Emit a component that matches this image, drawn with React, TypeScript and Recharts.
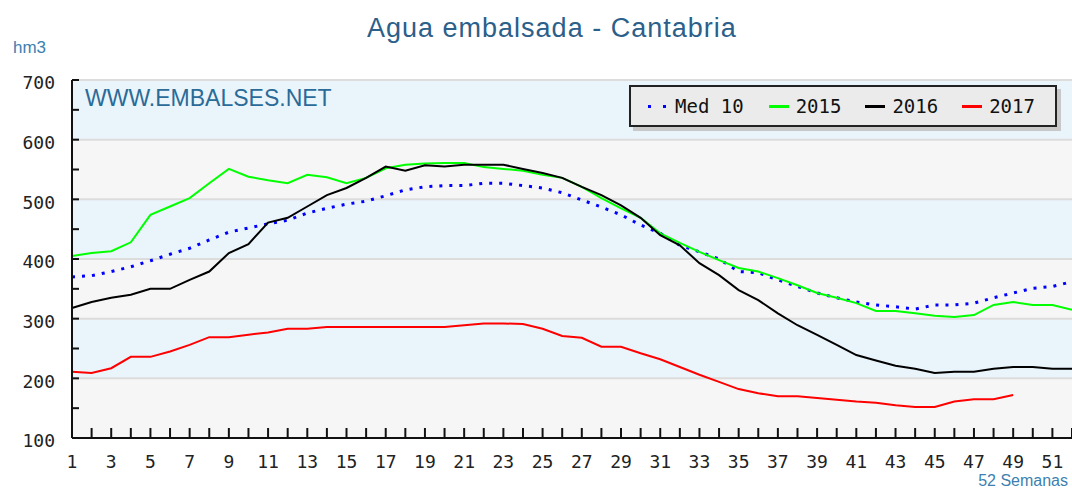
import React from 'react';
import { LineChart, Line, XAxis, YAxis, CartesianGrid, ReferenceLine, Legend } from 'recharts';

// semanas 1..52
const weeks = [1, 2, 3, 4, 5, 6, 7, 8, 9, 10, 11, 12, 13, 14, 15, 16, 17, 18, 19, 20, 21, 22, 23, 24, 25, 26,
    27, 28, 29, 30, 31, 32, 33, 34, 35, 36, 37, 38, 39, 40, 41, 42, 43, 44, 45, 46, 47, 48, 49, 50, 51, 52];

// hm3 por semana
const med10 = [370, 372, 379, 387, 397, 408, 418, 432, 445, 452, 459, 465, 477, 485, 492, 497, 506, 516, 521, 523,
    523, 527, 527, 523, 519, 511, 499, 487, 474, 457, 443, 423, 412, 400, 379, 377, 365, 354, 343, 335,
    328, 323, 320, 316, 323, 323, 326, 335, 343, 351, 354, 362];
const y2015 = [405, 410, 413, 428, 474, 488, 502, 527, 551, 538, 532, 527, 541, 537, 527, 536, 552, 558, 560, 561,
    561, 554, 551, 548, 541, 536, 521, 502, 485, 469, 443, 427, 412, 398, 385, 379, 368, 356, 343, 335,
    326, 313, 313, 309, 305, 303, 306, 323, 328, 323, 323, 315];
const y2016 = [318, 328, 335, 340, 350, 350, 365, 379, 410, 425, 461, 469, 488, 507, 519, 536, 555, 548, 557, 555,
    558, 558, 558, 551, 544, 536, 521, 507, 490, 469, 440, 423, 393, 373, 348, 331, 309, 289, 273, 256,
    239, 230, 221, 216, 209, 211, 211, 216, 219, 219, 216, 216];
const y2017 = [211, 209, 217, 236, 236, 245, 256, 269, 269, 273, 277, 283, 283, 286, 286, 286, 286, 286, 286, 286,
    289, 292, 292, 291, 283, 271, 268, 253, 253, 242, 232, 219, 206, 194, 182, 175, 170, 170, 167, 164,
    161, 159, 155, 152, 152, 161, 165, 165, 172];

const yTicks = [100, 150, 200, 250, 300, 350, 400, 450, 500, 550, 600, 650, 700];
const gridValues = [200, 300, 400, 500, 600, 700];

const series = [
    { key: 'med', name: 'Med 10', color: '#0000ff', dotted: true },
    { key: 'y2015', name: '2015', color: '#00ff00', dotted: false },
    { key: 'y2016', name: '2016', color: '#000000', dotted: false },
    { key: 'y2017', name: '2017', color: '#ff0000', dotted: false },
];

const data = weeks.map((w, i) => ({
    week: w,
    med: med10[i],
    y2015: y2015[i],
    y2016: y2016[i],
    y2017: i < y2017.length ? y2017[i] : null,
}));

const monoFont = '"DejaVu Sans Mono", monospace';
const sansFont = '"Liberation Sans", Arial, sans-serif';

const YTick = (props: any) => {
    const { x, y, payload } = props;
    const v = payload.value;
    return (
        <g>
            <line x1={x} x2={x + 7} y1={y} y2={y} stroke="#111" strokeWidth={2} />
            {v % 100 === 0 && (
                <text x={x - 17} y={y + 3} dy="0.35em" textAnchor="end" fontFamily={monoFont} fontSize={18} fill="#222">
                    {v}
                </text>
            )}
        </g>
    );
};

const XTick = (props: any) => {
    const { x, y, payload } = props;
    const w = payload.value;
    return (
        <g>
            <line x1={x} x2={x} y1={y} y2={y - 10} stroke="#111" strokeWidth={2} />
            {w % 2 === 1 && (
                <text x={x} y={y + 24} dy="0.35em" textAnchor="middle" fontFamily={monoFont} fontSize={18} fill="#222">
                    {w}
                </text>
            )}
        </g>
    );
};

const LegendBox = () => (
    <div
        style={{
            boxSizing: 'border-box',
            width: 428,
            height: 42,
            background: '#ebebeb',
            border: '2px solid #222',
            boxShadow: '4px 4px 0 #c8c8c8',
            display: 'flex',
            alignItems: 'center',
            paddingLeft: 17,
            fontFamily: monoFont,
            fontSize: 19,
            color: '#111',
            whiteSpace: 'nowrap',
        }}
    >
        {series.map((s) => (
            <div key={s.key} style={{ display: 'flex', alignItems: 'center', flexShrink: 0, marginRight: s.dotted ? 25 : 24 }}>
                {s.dotted ? (
                    <span style={{ display: 'flex', width: 18, marginRight: 9 }}>
                        <span style={{ width: 3, height: 3, background: s.color, marginRight: 12 }} />
                        <span style={{ width: 3, height: 3, background: s.color }} />
                    </span>
                ) : (
                    <span style={{ width: 20, height: 3, background: s.color, marginRight: 7 }} />
                )}
                <span>{s.name}</span>
            </div>
        ))}
    </div>
);

export default function App() {
    return (
        <div style={{ position: 'absolute', left: 0, top: 0, width: 1072, height: 488, background: '#fff', overflow: 'hidden' }}>
            <LineChart width={1072} height={488} data={data} margin={{ top: 80, right: 0, bottom: 0, left: 0 }}>
                {/* franjas alternas azul / gris */}
                <CartesianGrid
                    horizontal={true}
                    vertical={false}
                    stroke="none"
                    horizontalFill={['#eaf4fb', '#eaf4fb', '#f6f6f6', '#f6f6f6']}
                    fillOpacity={1}
                />
                {gridValues.map((v) => (
                    <ReferenceLine key={v} y={v} stroke="#dcdcdc" strokeWidth={2} />
                ))}
                <XAxis
                    dataKey="week"
                    type="number"
                    domain={[1, 52]}
                    ticks={weeks}
                    interval={0}
                    height={50}
                    tickSize={0}
                    tickMargin={0}
                    tickLine={false}
                    tick={<XTick />}
                    axisLine={{ stroke: '#111', strokeWidth: 2 }}
                />
                <YAxis
                    type="number"
                    domain={[100, 700]}
                    ticks={yTicks}
                    interval={0}
                    width={72}
                    tickSize={0}
                    tickMargin={0}
                    tickLine={false}
                    tick={<YTick />}
                    axisLine={{ stroke: '#111', strokeWidth: 2 }}
                />
                <Legend
                    layout="horizontal"
                    verticalAlign="middle"
                    align="center"
                    content={() => <LegendBox />}
                    wrapperStyle={{ left: 629, top: 85, width: 428, height: 42 }}
                />
                {series.map((s) => (
                    <Line
                        key={s.key}
                        type="linear"
                        dataKey={s.key}
                        name={s.name}
                        stroke={s.color}
                        strokeWidth={s.dotted ? 3 : 2}
                        strokeDasharray={s.dotted ? '3 7' : undefined}
                        dot={false}
                        activeDot={false}
                        connectNulls={false}
                        isAnimationActive={false}
                    />
                ))}
            </LineChart>

            <div style={{ position: 'absolute', left: 367, top: 12, fontFamily: sansFont, fontSize: 27, lineHeight: '32px', letterSpacing: 1, color: '#2c5f8a', whiteSpace: 'nowrap' }}>
                Agua embalsada - Cantabria
            </div>
            <div style={{ position: 'absolute', left: 13, top: 38, fontFamily: sansFont, fontSize: 17, lineHeight: '20px', color: '#3d7fb0' }}>
                hm3
            </div>
            <div style={{ position: 'absolute', left: 85, top: 86, fontFamily: sansFont, fontSize: 23, lineHeight: '24px', color: '#2a6b98', whiteSpace: 'nowrap' }}>
                WWW.EMBALSES.NET
            </div>
            <div style={{ position: 'absolute', right: 4, top: 474, fontFamily: sansFont, fontSize: 16, lineHeight: '14px', color: '#3d7fb0', whiteSpace: 'nowrap' }}>
                52 Semanas
            </div>
        </div>
    );
}
